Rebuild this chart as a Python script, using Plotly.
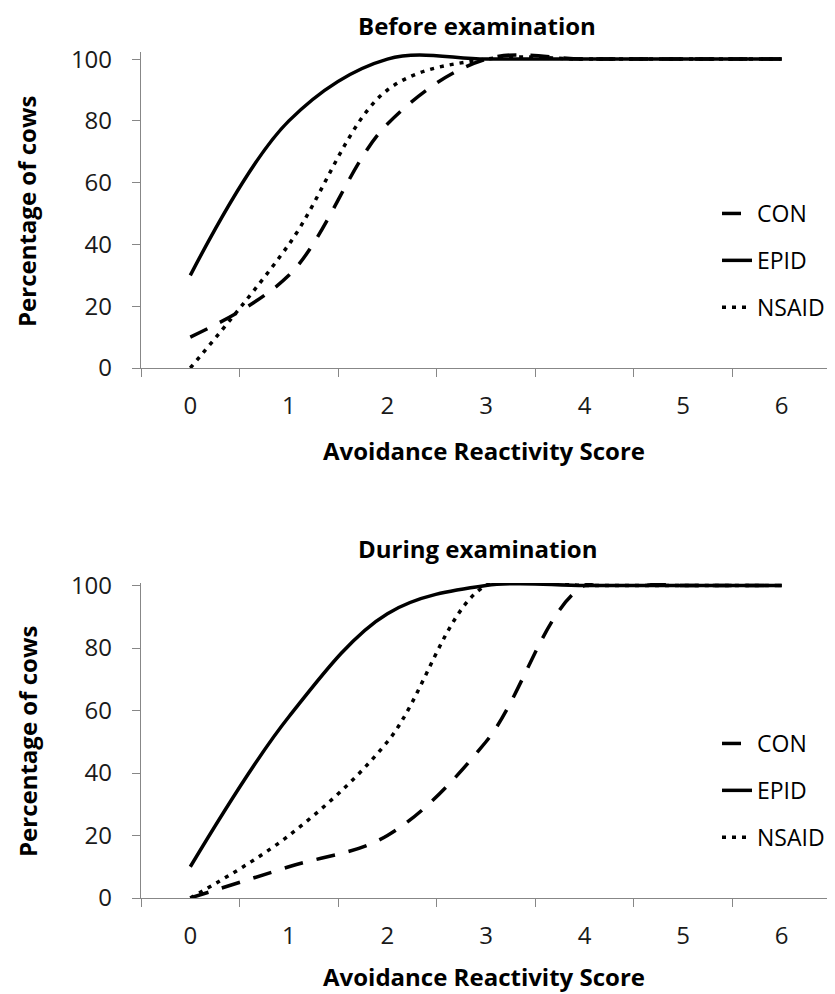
import plotly.graph_objects as go

# page body has an 8px margin, so the figure is drawn 8px in from the top-left
OFF = 8
W, H = 827, 986

scores = ["0", "1", "2", "3", "4", "5", "6"]
series_names = ["CON", "EPID", "NSAID"]

before_con = [10, 30, 79, 100, 100, 100, 100]
before_epid = [30, 80, 100, 100, 100, 100, 100]
before_nsaid = [0, 40, 90, 100, 100, 100, 100]

during_con = [0, 10, 20, 50, 100, 100, 100]
during_epid = [10, 58, 91, 100, 100, 100, 100]
during_nsaid = [0, 20, 50, 100, 100, 100, 100]

panel_titles = ["Before examination", "During examination"]
x_title = "Avoidance Reactivity Score"
y_title = "Percentage of cows"
y_ticks = [0, 20, 40, 60, 80, 100]

FONT = "Open Sans"
AXIS_COLOR = "#878787"
TICK_COLOR = "#1a1a1a"
dash_styles = {"CON": "19px,14px", "EPID": "solid", "NSAID": "4px,6px"}


def px_x(p):
    return (p - OFF) / W


def px_y(p):
    return 1 - (p - OFF) / H


fig = go.Figure()

panels = [
    (dict(CON=before_con, EPID=before_epid, NSAID=before_nsaid), "x", "y", "legend"),
    (dict(CON=during_con, EPID=during_epid, NSAID=during_nsaid), "x2", "y2", "legend2"),
]
for data, xa, ya, lg in panels:
    for name in series_names:
        fig.add_trace(go.Scatter(
            x=scores, y=data[name], name=name, mode="lines",
            xaxis=xa, yaxis=ya, legend=lg, legendgroup=lg + name,
            line=dict(color="black", width=3.5, dash=dash_styles[name],
                      shape="spline", smoothing=1.0),
            hoverinfo="x+y+name",
        ))

common_x = dict(
    type="category", tickson="boundaries", ticks="outside", ticklen=8,
    tickcolor=AXIS_COLOR, showline=True, linecolor=AXIS_COLOR, linewidth=1.3,
    showgrid=False, zeroline=False, range=[-0.5, 6.5], automargin=False,
    tickfont=dict(family=FONT, size=24, color=TICK_COLOR), ticklabelstandoff=16,
    domain=[px_x(141), px_x(831)],
)
common_y = dict(
    tickvals=y_ticks, ticks="outside", ticklen=8, tickcolor=AXIS_COLOR,
    showline=True, linecolor=AXIS_COLOR, linewidth=1.3, showgrid=False, zeroline=False,
    tickfont=dict(family=FONT, size=24, color=TICK_COLOR), ticklabelstandoff=15,
    automargin=False,
)

title_font = dict(family=FONT, size=24, color="black")
annotations = [
    dict(text="<b>" + panel_titles[0] + "</b>", x=px_x(477), y=px_y(OFF),
         xref="paper", yref="paper", showarrow=False, borderpad=0,
         xanchor="center", yanchor="top", font=title_font),
    dict(text="<b>" + panel_titles[1] + "</b>", x=px_x(477), y=px_y(548),
         xref="paper", yref="paper", showarrow=False,
         xanchor="center", yanchor="middle", font=title_font),
    dict(text="<b>" + x_title + "</b>", x=px_x(484), y=px_y(450),
         xref="paper", yref="paper", showarrow=False,
         xanchor="center", yanchor="middle", font=title_font),
    dict(text="<b>" + x_title + "</b>", x=px_x(484), y=px_y(OFF + H),
         xref="paper", yref="paper", showarrow=False, borderpad=0,
         xanchor="center", yanchor="bottom", font=title_font),
]
for yty in (212, 742):
    annotations.append(dict(text="<b>" + y_title + "</b>", x=px_x(27), y=px_y(yty),
                            xref="paper", yref="paper", showarrow=False, textangle=-90,
                            xanchor="center", yanchor="middle", font=title_font))

legend_style = dict(xanchor="left", yanchor="top",
                    font=dict(family=FONT, size=23, color="black"), tracegroupgap=14,
                    bgcolor="rgba(0,0,0,0)")

fig.update_layout(
    width=W, height=H,
    margin=dict(l=0, r=0, t=0, b=0),
    paper_bgcolor="white", plot_bgcolor="white",
    font=dict(family=FONT, color="black"),
    xaxis=dict(common_x, anchor="y"),
    yaxis=dict(common_y, anchor="x", range=[0, 102.3], domain=[px_y(368), px_y(52)]),
    xaxis2=dict(common_x, anchor="y2"),
    yaxis2=dict(common_y, anchor="x2", range=[0, 100.8], domain=[px_y(898), px_y(583)]),
    legend=dict(legend_style, x=px_x(717), y=px_y(192)),
    legend2=dict(legend_style, x=px_x(717), y=px_y(722)),
    showlegend=True,
    annotations=annotations,
)

fig.write_html("out.html")
